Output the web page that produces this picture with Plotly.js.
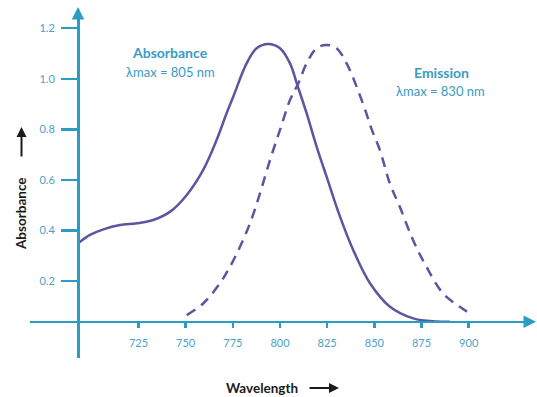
<!DOCTYPE html>
<html>
<head>
<meta charset="utf-8">
<script src="https://cdn.plot.ly/plotly-3.0.1.min.js"></script>
<style>html,body{margin:0;padding:0;background:#fff;}#chart{width:537px;height:397px;}</style>
</head>
<body>
<div id="chart"></div>
<script>
// ---- data ----
const absWavelength = [693, 699.3, 706.4, 715.2, 724.1, 732.8, 741.8, 750.6, 759.3, 766.4, 771.7, 775.2, 782.3, 787.6, 793.8, 800.0, 805.3, 809.2, 814.1, 819.4, 824.7, 831.8, 838.8, 847.7, 858.3, 870.6, 883.0, 890.1];
const absValues     = [0.350, 0.383, 0.405, 0.422, 0.429, 0.442, 0.475, 0.541, 0.640, 0.758, 0.864, 0.929, 1.061, 1.121, 1.138, 1.121, 1.061, 0.975, 0.864, 0.732, 0.613, 0.455, 0.323, 0.192, 0.099, 0.053, 0.041, 0.040];
const emWavelength  = [750.6, 759.3, 768.2, 773.5, 778.8, 784.1, 789.4, 794.7, 800.0, 805.3, 809.7, 814.1, 819.4, 824.7, 830.0, 835.3, 840.6, 845.5, 848.7, 852.9, 858.2, 863.5, 870.5, 877.6, 886.4, 895.3, 900.6];
const emValues      = [0.066, 0.112, 0.192, 0.257, 0.336, 0.429, 0.547, 0.679, 0.798, 0.916, 0.982, 1.061, 1.121, 1.134, 1.121, 1.061, 0.969, 0.869, 0.798, 0.719, 0.587, 0.494, 0.363, 0.257, 0.152, 0.099, 0.073];
const xTicks = [725, 750, 775, 800, 825, 850, 875, 900];
const yTicks = [0.2, 0.4, 0.6, 0.8, 1.0, 1.2];
const yTickText = ['0.2', '0.4', '0.6', '0.8', '1.0', '1.2'];
const absLabel = ['<b>Absorbance</b>', 'λmax = 805 nm'];
const emLabel = ['<b>Emission</b>', 'λmax = 830 nm'];
const xTitle = 'Wavelength';
const yTitle = 'Absorbance';

// ---- styling ----
const W = 537, H = 397;
const teal = '#2b9cc4';
const tickFontColor = '#4aa2c9';
const curveColor = '#5a57a0';
const xRange = [667.5, 932.5];
const yRange = [-0.1036, 1.2522];
const xDomain = [30 / W, 530 / W];
const yDomain = [39 / H, 382 / H];
const xAxisPos = (H - 321.7) / H;   // paper y of the horizontal axis line
const yAxisPos = 78 / W;            // paper x of the vertical axis line

const traces = [
  {x: absWavelength, y: absValues, type: 'scatter', mode: 'lines',
   line: {color: curveColor, width: 2.5, shape: 'spline', smoothing: 1}, hoverinfo: 'skip'},
  {x: emWavelength, y: emValues, type: 'scatter', mode: 'lines',
   line: {color: curveColor, width: 2.5, shape: 'spline', smoothing: 1, dash: '10px,7px'}, hoverinfo: 'skip'}
];

const tickFont = {family: 'Lato, sans-serif', size: 11, color: tickFontColor};
function txt(px, py, text, font, extra) {
  return Object.assign({xref: 'paper', yref: 'paper', x: px / W, y: (H - py) / H, text: text,
    showarrow: false, xanchor: 'center', yanchor: 'middle', font: font}, extra || {});
}
function arrow(px, py, ax, ay, color, width) {
  return {xref: 'paper', yref: 'paper', x: px / W, y: (H - py) / H, ax: ax, ay: ay, text: '',
    showarrow: true, arrowhead: 2, arrowsize: 1, arrowwidth: width, arrowcolor: color,
    xanchor: 'center', yanchor: 'middle'};
}
const labelFont = {family: 'Lato, sans-serif', size: 14, color: '#3a9bc4'};
const labelFont2 = {family: 'Lato, sans-serif', size: 13, color: '#3a9bc4'};
const titleFont = {family: 'Lato, sans-serif', size: 13.5, color: '#1a1a1a'};

const layout = {
  width: W, height: H,
  margin: {l: 0, r: 0, t: 0, b: 0},
  paper_bgcolor: '#ffffff', plot_bgcolor: '#ffffff',
  showlegend: false,
  xaxis: {domain: xDomain, range: xRange, anchor: 'free', position: xAxisPos,
    showline: true, linecolor: teal, linewidth: 2.5, showgrid: false, zeroline: false,
    tickmode: 'array', tickvals: xTicks, ticks: 'outside', ticklen: 5, tickwidth: 2.5, tickcolor: teal,
    tickfont: tickFont, ticklabelstandoff: 6},
  yaxis: {domain: yDomain, range: yRange, anchor: 'free', position: yAxisPos,
    showline: true, linecolor: teal, linewidth: 2.5, showgrid: false, zeroline: false,
    tickmode: 'array', tickvals: yTicks, ticktext: yTickText, ticks: 'outside', ticklen: 16, tickwidth: 2.5, tickcolor: teal,
    tickfont: tickFont, ticklabelstandoff: 4},
  xaxis2: {domain: xDomain, range: xRange, anchor: 'free', position: xAxisPos, overlaying: 'x',
    showline: false, showgrid: false, zeroline: false, showticklabels: false,
    tickmode: 'array', tickvals: xTicks, ticks: 'inside', ticklen: 8, tickwidth: 2.5, tickcolor: teal},
  yaxis2: {domain: yDomain, range: yRange, anchor: 'free', position: yAxisPos, overlaying: 'y',
    showline: false, showgrid: false, zeroline: false, showticklabels: false,
    tickmode: 'array', tickvals: yTicks, ticks: 'inside', ticklen: 19, tickwidth: 2.5, tickcolor: teal},
  annotations: [
    // axis arrowheads
    arrow(78, 7, 0, 12, teal, 2.5),
    arrow(536, 321.7, -12, 0, teal, 2.5),
    // axis titles
    txt(21, 214, '<b>' + yTitle + '</b>', titleFont, {textangle: -90}),
    arrow(21.5, 127, 0, 31, '#1a1a1a', 2),
    txt(262, 388, '<b>' + xTitle + '</b>', titleFont),
    arrow(339, 388, -31, 0, '#1a1a1a', 2),
    // curve labels
    txt(170, 53, absLabel[0], labelFont),
    txt(170, 72, absLabel[1], labelFont2),
    txt(441, 72, emLabel[0], labelFont),
    txt(440, 91, emLabel[1], labelFont2)
  ]
};

Plotly.newPlot('chart', traces, layout, {displayModeBar: false, staticPlot: true});
</script>
</body>
</html>
